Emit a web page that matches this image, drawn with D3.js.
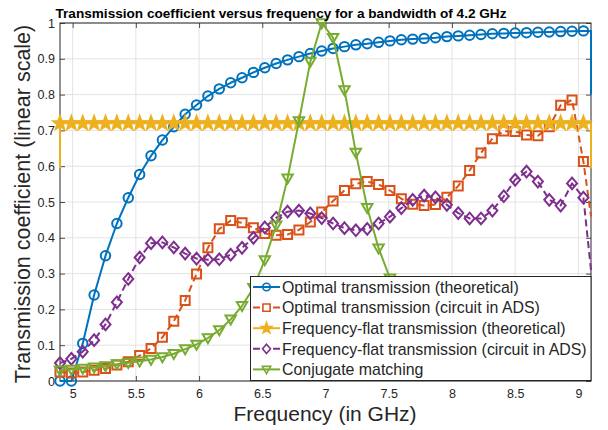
<!DOCTYPE html>
<html>
<head>
<meta charset="utf-8">
<script src="https://cdn.jsdelivr.net/npm/d3@7"></script>
<style>
  body { margin: 0; background: #fff; }
  svg text { font-family: "Liberation Sans", Arial, Helvetica, sans-serif; }
</style>
</head>
<body>
<svg id="chart" width="608" height="430"></svg>
<script>
// frequency grid (GHz), one marker per point
const freq = [4.90, 4.99, 5.08, 5.17, 5.26, 5.35, 5.44, 5.53, 5.62, 5.71,
  5.80, 5.89, 5.98, 6.07, 6.16, 6.25, 6.34, 6.43, 6.52, 6.61,
  6.70, 6.79, 6.88, 6.97, 7.06, 7.15, 7.24, 7.33, 7.42, 7.51,
  7.60, 7.69, 7.78, 7.87, 7.96, 8.05, 8.14, 8.23, 8.32, 8.41,
  8.50, 8.59, 8.68, 8.77, 8.86, 8.95, 9.04];

const optTheory = [0, 0, 0.105, 0.24, 0.35, 0.44, 0.512, 0.577, 0.629, 0.673,
  0.71, 0.745, 0.771, 0.796, 0.816, 0.833, 0.847, 0.862, 0.875, 0.887,
  0.897, 0.906, 0.915, 0.922, 0.929, 0.934, 0.939, 0.942, 0.946, 0.95,
  0.953, 0.955, 0.957, 0.959, 0.962, 0.964, 0.966, 0.968, 0.97, 0.971,
  0.972, 0.973, 0.974, 0.975, 0.976, 0.977, 0.978];

const optADS = [0.025, 0.022, 0.025, 0.03, 0.035, 0.045, 0.054, 0.071, 0.091, 0.122,
  0.167, 0.225, 0.299, 0.372, 0.425, 0.448, 0.442, 0.428, 0.412, 0.407,
  0.409, 0.422, 0.444, 0.472, 0.503, 0.532, 0.551, 0.557, 0.549, 0.532,
  0.509, 0.494, 0.49, 0.493, 0.513, 0.545, 0.588, 0.637, 0.677, 0.698,
  0.697, 0.687, 0.685, 0.71, 0.77, 0.785, 0.613];

const flatTheory = [0.72, 0.72, 0.72, 0.72, 0.72, 0.72, 0.72, 0.72, 0.72, 0.72,
  0.72, 0.72, 0.72, 0.72, 0.72, 0.72, 0.72, 0.72, 0.72, 0.72,
  0.72, 0.72, 0.72, 0.72, 0.72, 0.72, 0.72, 0.72, 0.72, 0.72,
  0.72, 0.72, 0.72, 0.72, 0.72, 0.72, 0.72, 0.72, 0.72, 0.72,
  0.72, 0.72, 0.72, 0.72, 0.72, 0.72, 0.72];

const flatADS = [0.05, 0.062, 0.082, 0.114, 0.158, 0.22, 0.285, 0.345, 0.385, 0.387,
  0.373, 0.356, 0.342, 0.339, 0.34, 0.353, 0.372, 0.4, 0.429, 0.456,
  0.473, 0.476, 0.468, 0.455, 0.44, 0.427, 0.421, 0.425, 0.44, 0.459,
  0.483, 0.506, 0.518, 0.513, 0.492, 0.469, 0.454, 0.454, 0.476, 0.516,
  0.562, 0.585, 0.557, 0.506, 0.49, 0.552, 0.512];

const conjugate = [0.03, 0.032, 0.035, 0.038, 0.042, 0.047, 0.051, 0.055, 0.06, 0.067,
  0.076, 0.089, 0.102, 0.12, 0.142, 0.172, 0.21, 0.26, 0.338, 0.435,
  0.566, 0.726, 0.892, 1.0, 0.959, 0.813, 0.638, 0.484, 0.371, 0.287,
  0.21, 0.16, 0.12, 0.1, 0.08, 0.07, 0.06, 0.05, 0.05, 0.04,
  0.04, 0.04, 0.035, 0.03, 0.03, 0.03, 0.03];

// curve ends at the band edges (line only, no marker)
const optTheoryHead = [];
const optTheoryTail = [[9.1, 0.978], [9.1, 0.80]];
const optADSTail = [[9.1, 0.46]];
const flatTheoryHead = [[4.9, 0.594]];
const flatTheoryTail = [[9.1, 0.72], [9.1, 0.594]];
const flatADSTail = [[9.1, 0.31]];

const seriesNames = [
  'Optimal transmission (theoretical)',
  'Optimal transmission (circuit in ADS)',
  'Frequency-flat transmission (theoretical)',
  'Frequency-flat transmission (circuit in ADS)',
  'Conjugate matching'
];
const seriesColors = ['#0072BD', '#D95319', '#EDB120', '#7E2F8E', '#77AC30'];

const xTicks = [5, 5.5, 6, 6.5, 7, 7.5, 8, 8.5, 9];
const yTicks = [0, 0.1, 0.2, 0.3, 0.4, 0.5, 0.6, 0.7, 0.8, 0.9, 1];

const plot = {left: 60, right: 591, top: 23, bottom: 381};
const ink = '#262626';

const svg = d3.select('#chart');

const x = d3.scaleLinear().domain([4.9, 9.1]).range([plot.left, plot.right]);
const y = d3.scaleLinear().domain([0, 1]).range([plot.bottom, plot.top]);

// marker paths
function starPath(R, r) {
  const pts = [];
  for (let i = 0; i < 10; i++) {
    const a = -Math.PI / 2 + i * Math.PI / 5;
    const rad = i % 2 === 0 ? R : r;
    pts.push([rad * Math.cos(a), rad * Math.sin(a)]);
  }
  return 'M' + pts.map(p => p.join(',')).join('L') + 'Z';
}
const markers = {
  circle: {d: d3.symbol(d3.symbolCircle, 70)(), fill: false},
  square: {d: 'M-4.5,-4.5L4.5,-4.5L4.5,4.5L-4.5,4.5Z', fill: false},
  star: {d: starPath(7, 2.9), fill: true},
  diamond: {d: 'M0,-5.8L5,0L0,5.8L-5,0Z', fill: false},
  triangle: {d: 'M-5.2,-3.8L5.2,-3.8L0,5.2Z', fill: false}
};

const series = [
  {values: optTheory, head: optTheoryHead, tail: optTheoryTail, marker: 'circle', dash: null},
  {values: optADS, head: [], tail: optADSTail, marker: 'square', dash: '7,4'},
  {values: flatTheory, head: flatTheoryHead, tail: flatTheoryTail, marker: 'star', dash: null},
  {values: flatADS, head: [], tail: flatADSTail, marker: 'diamond', dash: '7,4'},
  {values: conjugate, head: [], tail: [], marker: 'triangle', dash: null}
].map((s, i) => Object.assign(s, {name: seriesNames[i], color: seriesColors[i]}));

// grid
const grid = svg.append('g').attr('class', 'grid');
grid.selectAll('.gx').data(xTicks).enter().append('line')
  .attr('x1', d => x(d)).attr('x2', d => x(d))
  .attr('y1', plot.top).attr('y2', plot.bottom)
  .attr('stroke', '#e3e3e3').attr('stroke-width', 1);
grid.selectAll('.gy').data(yTicks).enter().append('line')
  .attr('x1', plot.left).attr('x2', plot.right)
  .attr('y1', d => y(d)).attr('y2', d => y(d))
  .attr('stroke', '#e3e3e3').attr('stroke-width', 1);

// axes (ticks point inward, box on)
function styleAxis(g) {
  g.select('.domain').remove();
  g.selectAll('.tick line').attr('stroke', ink).attr('stroke-width', 0.8);
  g.selectAll('text').attr('fill', ink).style('font-size', '12.5px')
    .style('font-family', '"Liberation Sans", Arial, sans-serif');
}
svg.append('g').attr('transform', `translate(0,${plot.bottom})`)
  .call(d3.axisBottom(x).tickValues(xTicks).tickFormat(d3.format('')).tickSizeInner(-5).tickSizeOuter(0).tickPadding(8))
  .call(styleAxis);
svg.append('g').attr('transform', `translate(0,${plot.top})`)
  .call(d3.axisTop(x).tickValues(xTicks).tickFormat('').tickSizeInner(-5).tickSizeOuter(0))
  .call(styleAxis);
svg.append('g').attr('transform', `translate(${plot.left},0)`)
  .call(d3.axisLeft(y).tickValues(yTicks).tickFormat(d3.format('')).tickSizeInner(-5).tickSizeOuter(0).tickPadding(5))
  .call(styleAxis);
svg.append('g').attr('transform', `translate(${plot.right},0)`)
  .call(d3.axisRight(y).tickValues(yTicks).tickFormat('').tickSizeInner(-5).tickSizeOuter(0))
  .call(styleAxis);

svg.append('rect')
  .attr('x', plot.left).attr('y', plot.top)
  .attr('width', plot.right - plot.left).attr('height', plot.bottom - plot.top)
  .attr('fill', 'none').attr('stroke', ink).attr('stroke-width', 1);

// curves
const line = d3.line().x(d => x(d[0])).y(d => y(d[1]));

series.forEach(s => {
  const pts = freq.map((f, i) => [f, s.values[i]]);
  const g = svg.append('g');
  g.append('path')
    .attr('d', line(s.head.concat(pts, s.tail)))
    .attr('fill', 'none')
    .attr('stroke', s.color)
    .attr('stroke-width', 2)
    .attr('stroke-dasharray', s.dash)
    .attr('stroke-linejoin', 'round');
  const m = markers[s.marker];
  g.selectAll('.mk').data(pts).enter().append('path')
    .attr('d', m.d)
    .attr('transform', d => `translate(${x(d[0])},${y(d[1])})`)
    .attr('fill', m.fill ? s.color : 'none')
    .attr('stroke', s.color)
    .attr('stroke-width', 2)
    .attr('stroke-linejoin', 'miter');
});

// legend
const lg = svg.append('g').attr('class', 'legend');
lg.append('rect')
  .attr('x', 250.5).attr('y', 276.5).attr('width', 340.5).attr('height', 104)
  .attr('fill', '#fff').attr('stroke', ink).attr('stroke-width', 1);
series.forEach((s, i) => {
  const cy = 287 + i * 20.6;
  lg.append('line')
    .attr('x1', 253).attr('x2', 280).attr('y1', cy).attr('y2', cy)
    .attr('stroke', s.color).attr('stroke-width', 2)
    .attr('stroke-dasharray', s.dash ? '7,3' : null);
  const m = markers[s.marker];
  lg.append('path')
    .attr('d', m.d)
    .attr('transform', `translate(266.5,${cy}) scale(0.8)`)
    .attr('fill', m.fill ? s.color : (s.dash ? '#fff' : 'none'))
    .attr('stroke', s.color).attr('stroke-width', 2);
  lg.append('text')
    .attr('x', 282).attr('y', cy).attr('dy', '0.36em')
    .attr('fill', ink)
    .style('font-size', '15.9px')
    .text(s.name);
});

// titles
svg.append('text')
  .attr('x', 281).attr('y', 18)
  .attr('text-anchor', 'middle')
  .style('font-size', '13.6px').style('font-weight', 'bold')
  .attr('fill', '#000')
  .text('Transmission coefficient versus frequency for a bandwidth of 4.2 GHz');

svg.append('text')
  .attr('x', 325).attr('y', 421)
  .attr('text-anchor', 'middle')
  .style('font-size', '21px')
  .attr('fill', ink)
  .text('Frequency (in GHz)');

svg.append('text')
  .attr('transform', 'translate(30,204) rotate(-90)')
  .attr('text-anchor', 'middle')
  .style('font-size', '21.5px')
  .attr('fill', ink)
  .text('Transmission coefficient (linear scale)');
</script>
</body>
</html>
